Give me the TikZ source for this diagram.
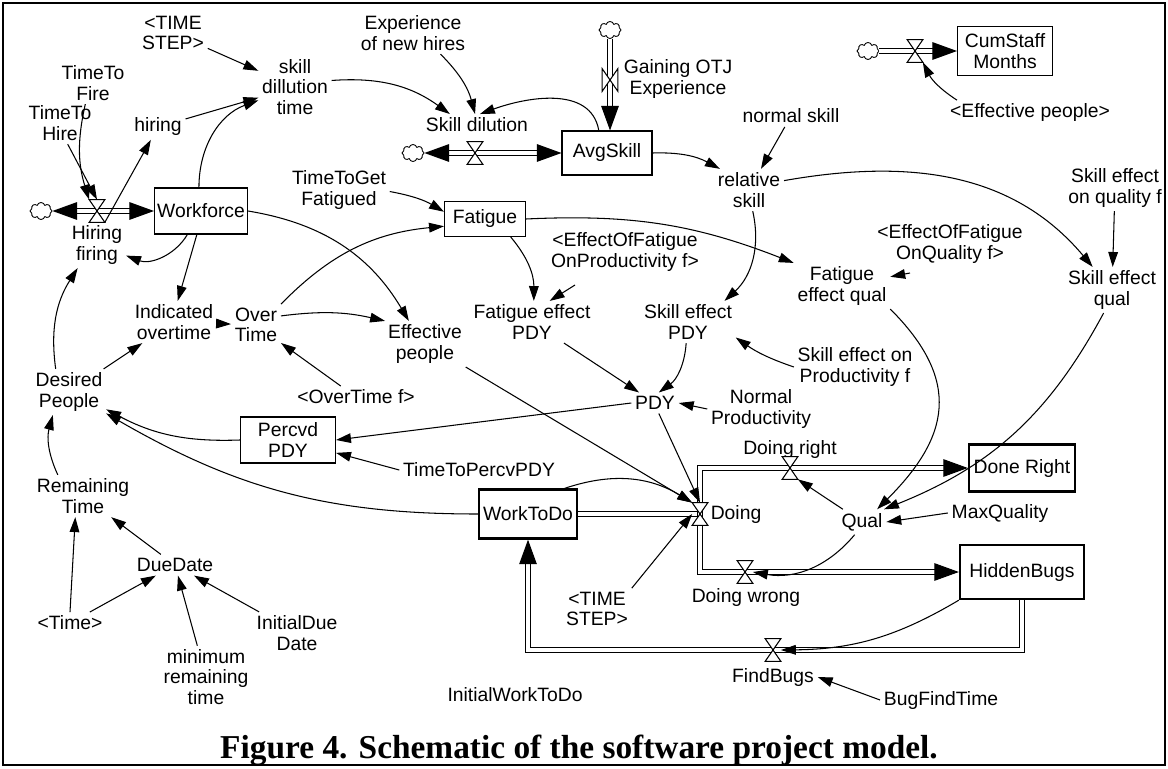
\documentclass[tikz,border=0pt]{standalone}
\usepackage{fontspec}
\setmainfont{Liberation Sans}
\newfontfamily\captionfont{Liberation Serif}
\usetikzlibrary{arrows.meta,shapes.symbols}

\newcommand{\varfont}{\fontsize{11}{11.6}\selectfont}
\tikzset{
  aux/.style={align=center, inner sep=2pt, font=\varfont},
  stock/.style={draw, line width=0.6pt, inner sep=1pt, align=center, font=\varfont},
  bigstock/.style={stock, line width=1.3pt},
  link/.style={line width=0.6pt, -{Triangle[length=8.5pt,width=5.5pt]}},
  pipe/.style={double, double distance=2.2pt, line width=0.6pt},
  pipeto/.style={pipe, -{Triangle[length=14pt,width=10pt]}},
  pipeboth/.style={pipe, {Triangle[length=14pt,width=10pt]}-{Triangle[length=14pt,width=10pt]}},
  valvebox/.style={minimum width=0.3cm, minimum height=0.44cm, inner sep=0pt},
  puff/.style={cloud, cloud puffs=8, cloud ignores aspect, draw, fill=white,
    line width=0.5pt, minimum width=0.44cm, minimum height=0.34cm, inner sep=0pt}
}
\newcommand{\flowvalve}[2]{%
  \node[valvebox] (#1) at (#2) {};
  \draw[line width=0.6pt, fill=white]
  (#1.north west) -- (#1.north east) -- (#1.south west) -- (#1.south east) -- cycle;}
\newcommand{\flowvalveup}[2]{%
  \node[valvebox] (#1) at (#2) {};
  \draw[line width=0.6pt, fill=white]
  (#1.north west) -- (#1.south west) -- (#1.north east) -- (#1.south east) -- cycle;}

\begin{document}
\begin{tikzpicture}[x=0.02cm, y=0.02cm]
\useasboundingbox (0,0) rectangle (1168,768);
\draw[line width=1.4pt] (3,3) rectangle (1165,765);

  % stocks
  \node[stock, minimum width=1.86cm, minimum height=0.92cm] (wf) at (201,557) {Workforce};
  \node[stock, minimum width=1.8cm, minimum height=0.88cm] (avg) at (607,615) {AvgSkill};
  \node[stock, minimum width=1.9cm, minimum height=0.98cm] (csm) at (1005,717) {CumStaff\\Months};
  \node[stock, minimum width=1.62cm, minimum height=0.7cm] (fat) at (485,549) {Fatigue};
  \node[stock, minimum width=1.9cm, minimum height=0.92cm] (ppdy) at (288,328) {Percvd\\PDY};
  \node[bigstock, minimum width=1.96cm, minimum height=0.98cm] (wtd) at (528,254) {WorkToDo};
  \node[bigstock, minimum width=2.12cm, minimum height=0.94cm] (dr) at (1022,300) {Done Right};
  \node[bigstock, minimum width=2.48cm, minimum height=1.08cm] (hb) at (1022,196) {HiddenBugs};

  % clouds
  \node[puff] (chf) at (41,557) {};
  \node[puff] (csd) at (413,615) {};
  \node[puff] (cgain) at (610,738) {};
  \node[puff] (ccsm) at (868,717) {};

  % variables
  \node[aux] (ts1) at (173,735) {<TIME\\STEP>};
  \node[aux] (sdt) at (295,681) {skill\\dillution\\time};
  \node[aux] (ttf) at (93,685) {TimeTo\\Fire};
  \node[aux] (tth) at (60,645) {TimeTo\\Hire};
  \node[aux] (hiring) at (158,641) {hiring};
  \node[aux] (exp) at (413,735) {Experience\\of new hires};
  \node[aux] (gain) at (678,689) {Gaining OTJ\\Experience};
  \node[aux] (sdl) at (477,643) {Skill dilution};
  \node[aux] (ns) at (791,652) {normal skill};
  \node[aux] (rs) at (749,578) {relative\\skill};
  \node[aux] (ep2) at (1030,655) {<Effective people>};
  \node[aux] (hf) at (97,523) {Hiring\\firing};
  \node[aux] (ttg) at (339,578) {TimeToGet\\Fatigued};
  \node[aux] (efp) at (625,516) {<EffectOfFatigue\\OnProductivity f>};
  \node[aux] (efq) at (950,524) {<EffectOfFatigue\\OnQuality f>};
  \node[aux] (feq) at (842,482) {Fatigue\\effect qual};
  \node[aux] (seqf) at (1115,580) {Skill effect\\on quality f};
  \node[aux] (seq) at (1112,478) {Skill effect\\qual};
  \node[aux] (sep) at (688,446) {Skill effect\\PDY};
  \node[aux] (fep) at (532,446) {Fatigue effect\\PDY};
  \node[aux] (eff) at (425,424) {Effective\\people};
  \node[aux] (ot) at (256,443) {Over\\Time};
  \node[aux] (io) at (174,446) {Indicated\\overtime};
  \node[aux] (otf) at (356,371) {<OverTime f>};
  \node[aux] (dp) at (69,376) {Desired\\People};
  \node[aux] (ttp) at (479,298) {TimeToPercvPDY};
  \node[aux] (pdy) at (655,365) {PDY};
  \node[aux] (np) at (761,359) {Normal\\Productivity};
  \node[aux] (sepf) at (855,401) {Skill effect on\\Productivity f};
  \node[aux] (dright) at (790,318) {Doing right};
  \node[aux] (doing) at (736,254) {Doing};
  \node[aux] (dwrong) at (746,171) {Doing wrong};
  \node[aux] (qual) at (862,246) {Qual};
  \node[aux] (mq) at (1000,255) {MaxQuality};
  \node[aux] (fb) at (773,91) {FindBugs};
  \node[aux] (bft) at (941,68) {BugFindTime};
  \node[aux] (iwtd) at (515,73) {InitialWorkToDo};
  \node[aux] (ts2) at (597,159) {<TIME\\STEP>};
  \node[aux] (rt) at (83,272) {Remaining\\Time};
  \node[aux] (dd) at (175,203) {DueDate};
  \node[aux] (time) at (70,145) {<Time>};
  \node[aux] (mrt) at (206,91) {minimum\\remaining\\time};
  \node[aux] (idd) at (297,135) {InitialDue\\Date};
  \coordinate (efqout) at (910,495);
  \coordinate (efpout) at (575,483);

  % pipes
  \draw[pipeboth] (chf) -- (wf.west);
  \draw[pipeboth] (csd) -- (avg.west);
  \draw[pipeto] (cgain) -- (cgain |- avg.north);
  \draw[pipeto] (ccsm) -- (csm.west);
  \coordinate (doingpt) at (700,254);
  \draw[pipe] (wtd.east) -- (doingpt);
  \draw[pipeboth] (dr.west) -- (dr.west -| doingpt) -- (doingpt |- hb.west) -- (hb.west);
  \coordinate (fbpt) at (773,118);
  \draw[pipeto] (hb.south) |- (wtd.south |- fbpt) -- (wtd.south);

  % valves
  \flowvalve{vhf}{97,557}
  \flowvalve{vsd}{475,615}
  \flowvalveup{vgain}{610,688}
  \flowvalve{vcsm}{915,717}
  \flowvalve{vdoing}{doingpt}
  \flowvalve{vdr}{790,300}
  \flowvalve{vdw}{745,196}
  \flowvalve{vfb}{fbpt}

  % skill
  \draw[link] (ts1) -- (sdt);
  \draw[link] (hiring) -- (sdt);
  \draw[link] (wf.95) to[out=90, in=200] (sdt);
  \draw[link] (sdt) to[bend left=20] (sdl.158);
  \draw[link] (exp) to[bend left=15] (sdl.100);
  \draw[link] (avg.110) to[out=100, in=20] (sdl.75);
  \draw[link] (ns) -- (rs);
  \draw[link] (avg.east) to[bend left=15] (rs);
  \draw[link] (rs.15) to[out=10, in=130] (seq.130);
  \draw[link] (rs.-80) to[bend left=30] (sep.30);
  \draw[link] (seqf) -- (seq);

  % fatigue
  \draw[link] (ttg) to[bend left=10] (fat.170);
  \draw[link] (ot.north east) to[bend left=20] (fat.190);
  \draw[link] (fat.east) to[bend left=12] (feq.north west);
  \draw[link] (efqout) -- (feq);
  \draw[link] (fat.-35) to[bend left=20] (fep.85);
  \draw[link] (efpout) -- (fep.50);

  % workforce
  \draw[link] (wf.east) to[bend left=25] (eff.125);
  \draw[link] (ot.20) to[bend left=10] (eff.150);
  \draw[link] (wf.-100) -- (io.80);
  \draw[link] (wf.-120) to[bend left=40] (hf.-20);
  \draw[link] (io) -- (ot);
  \draw[link] (dp) -- (io);
  \draw[link] (dp.120) to[bend left=20] (hf.-130);
  \draw[link] (otf) -- (ot);
  \draw[link] (tth.-70) -- (vhf.north);
  \draw[link] (ttf.-110) to[bend right=15] (vhf.north west);
  \draw[link] (vhf.south east) -- (hiring);
  \draw[link] (ep2.170) to[bend left=15] (vcsm.south east);

  % productivity
  \draw[link] (ppdy.west) to[bend left=15] (dp.-25);
  \draw[link] (wtd.west) to[out=180, in=-30] (dp.-30);
  \draw[link] (pdy.west) -- (ppdy.east);
  \draw[link] (ttp.west) -- (ppdy.-15);
  \draw[link] (fep) -- (pdy);
  \draw[link] (sep.-95) to[bend left=25] (pdy.70);
  \draw[link] (np.west) -- (pdy.east);
  \draw[link] (sepf.west) to[bend left=8] (sep.-18);
  \draw[link] (pdy.-70) -- (vdoing.north);
  \draw[link] (eff.south east) -- (vdoing.north west);
  \draw[link] (wtd.35) to[bend left=25] (vdoing.north west);
  \draw[link] (ts2.north east) -- (vdoing.west);

  % quality
  \draw[link] (qual) -- (vdr.south east);
  \draw[link] (feq.south east) to[out=-45, in=45, looseness=1.3] (qual.40);
  \draw[link] (seq.-110) to[bend left=20] (qual.30);
  \draw[link] (mq.west) -- (qual.east);
  \draw[link] (qual.-120) to[bend left=30] (vdw.east);
  \draw[link] (hb.south west) to[bend left=15] (vfb.east);
  \draw[link] (bft.west) -- (fb.east);

  % due date
  \draw[link] (time.north) -- (rt.-110);
  \draw[link] (dd) -- (rt);
  \draw[link] (time) -- (dd);
  \draw[link] (mrt) -- (dd);
  \draw[link] (idd) -- (dd);
  \draw[link] (rt.140) to[bend left=20] (dp.-125);

  \node[font=\captionfont\fontsize{19}{22}\selectfont\bfseries, anchor=base] (cap) at (579,10)
    {Figure 4. Schematic of the software project model.};
\end{tikzpicture}
\end{document}
